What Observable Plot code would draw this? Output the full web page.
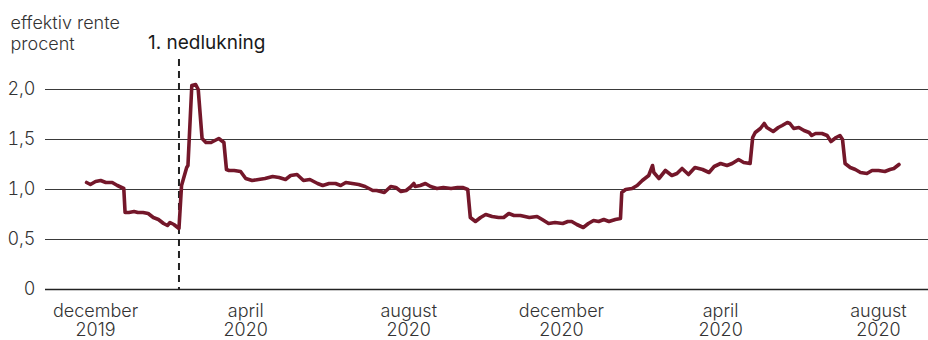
<!DOCTYPE html>
<html>
<head>
<meta charset="utf-8">
<script src="https://cdn.jsdelivr.net/npm/d3@7"></script>
<script src="https://cdn.jsdelivr.net/npm/@observablehq/plot@0.6"></script>
<style>
  html, body { margin: 0; padding: 0; background: #fff; }
  #chart svg { display: block; }
</style>
</head>
<body>
<div id="chart"></div>
<script>
// ---- data ----
const dates = [
  "2019-12-08","2019-12-11","2019-12-15","2019-12-19","2019-12-23","2019-12-28","2020-01-01","2020-01-06",
  "2020-01-07","2020-01-10","2020-01-14","2020-01-17","2020-01-21","2020-01-25","2020-01-29","2020-02-02",
  "2020-02-06","2020-02-09","2020-02-11","2020-02-14","2020-02-18","2020-02-20","2020-02-24","2020-02-25",
  "2020-02-28","2020-03-02","2020-03-04","2020-03-07","2020-03-10","2020-03-14","2020-03-17","2020-03-20",
  "2020-03-24","2020-03-26","2020-03-28","2020-04-01","2020-04-06","2020-04-10","2020-04-15","2020-04-20",
  "2020-04-25","2020-05-01","2020-05-06","2020-05-11","2020-05-15","2020-05-20","2020-05-25","2020-05-30",
  "2020-06-05","2020-06-09","2020-06-14","2020-06-19","2020-06-23","2020-06-27","2020-07-02","2020-07-07",
  "2020-07-12","2020-07-18","2020-07-21","2020-07-27","2020-08-01","2020-08-05","2020-08-09","2020-08-13",
  "2020-08-16","2020-08-19","2020-08-20","2020-08-24","2020-08-28","2020-09-01","2020-09-06","2020-09-11",
  "2020-09-17","2020-09-22","2020-09-26","2020-09-30","2020-10-02","2020-10-06","2020-10-10","2020-10-14",
  "2020-10-19","2020-10-24","2020-10-28","2020-11-01","2020-11-05","2020-11-10","2020-11-17","2020-11-23",
  "2020-11-27","2020-12-02","2020-12-07","2020-12-13","2020-12-17","2020-12-20","2020-12-24","2020-12-29",
  "2021-01-02","2021-01-06","2021-01-10","2021-01-14","2021-01-18","2021-01-23","2021-01-27","2021-01-28",
  "2021-01-31","2021-02-05","2021-02-09","2021-02-13","2021-02-16","2021-02-18","2021-02-21","2021-02-22",
  "2021-02-26","2021-03-03","2021-03-08","2021-03-12","2021-03-16","2021-03-21","2021-03-26","2021-04-01",
  "2021-04-06","2021-04-10","2021-04-15","2021-04-20","2021-04-24","2021-04-29","2021-05-03","2021-05-08",
  "2021-05-10","2021-05-12","2021-05-16","2021-05-19","2021-05-21","2021-05-26","2021-05-30","2021-06-02",
  "2021-06-06","2021-06-08","2021-06-11","2021-06-15","2021-06-19","2021-06-23","2021-06-25","2021-06-28",
  "2021-07-03","2021-07-07","2021-07-10","2021-07-14","2021-07-17","2021-07-19","2021-07-21","2021-07-25",
  "2021-07-29","2021-08-02","2021-08-07","2021-08-11","2021-08-16","2021-08-21","2021-08-25","2021-08-28",
  "2021-09-01"
];
const rates = [
  1.07,1.05,1.08,1.09,1.07,1.07,1.04,1.01,
  0.77,0.77,0.78,0.77,0.77,0.76,0.72,0.70,
  0.66,0.64,0.67,0.65,0.61,1.04,1.22,1.24,
  2.04,2.05,2.00,1.51,1.47,1.47,1.49,1.51,
  1.47,1.20,1.19,1.19,1.18,1.11,1.09,1.10,
  1.11,1.13,1.12,1.10,1.14,1.15,1.09,1.10,
  1.06,1.04,1.06,1.06,1.04,1.07,1.06,1.05,
  1.03,0.99,0.99,0.97,1.03,1.02,0.98,0.99,
  1.02,1.06,1.03,1.04,1.06,1.03,1.01,1.02,
  1.01,1.02,1.02,1.00,0.72,0.68,0.72,0.75,
  0.73,0.72,0.72,0.76,0.74,0.74,0.72,0.73,
  0.70,0.66,0.67,0.66,0.68,0.68,0.65,0.62,
  0.66,0.69,0.68,0.70,0.68,0.70,0.71,0.97,
  1.00,1.01,1.04,1.09,1.12,1.14,1.24,1.17,
  1.11,1.19,1.14,1.16,1.21,1.15,1.22,1.20,
  1.17,1.23,1.26,1.24,1.26,1.30,1.27,1.26,
  1.52,1.57,1.61,1.66,1.62,1.58,1.62,1.64,
  1.67,1.66,1.61,1.62,1.59,1.57,1.54,1.56,
  1.56,1.54,1.48,1.52,1.54,1.50,1.26,1.22,
  1.20,1.17,1.16,1.19,1.19,1.18,1.20,1.21,
  1.25
];
const xDomain = ["2019-11-06", "2021-09-24"];
const tickDates = ["2019-12-15","2020-04-10","2020-08-15","2020-12-12","2021-04-15","2021-08-16"];
const tickLabels = ["december\n2019","april\n2020","august\n2020","december\n2020","april\n2020","august\n2020"];
const yTicks = [0, 0.5, 1, 1.5, 2];
const yTop = 2.3;
const eventDate = "2020-02-18";
const eventLabel = "1. nedlukning";
const yTitle = "effektiv rente\nprocent";

// ---- build ----
const parse = d3.utcParse("%Y-%m-%d");
const data = dates.map((d, i) => ({date: parse(d), value: rates[i]}));
const ticks = tickDates.map((d, i) => ({date: parse(d), label: tickLabels[i]}));

const FONT = "Inter, 'Open Sans', sans-serif";
const chart = Plot.plot({
  width: 928,
  height: 340,
  marginLeft: 45,
  marginRight: 0,
  marginTop: 59,
  marginBottom: 51,
  style: {fontFamily: FONT, fontSize: "18px", color: "#333", background: "#fff"},
  x: {type: "utc", domain: xDomain.map(parse), axis: null},
  y: {domain: [0, yTop], axis: null},
  marks: [
    Plot.ruleY(yTicks.filter(d => d !== 0), {stroke: "#3a3a3a", strokeWidth: 1}),
    Plot.ruleY([0], {stroke: "#222", strokeWidth: 1.6}),
    Plot.axisY({
      ticks: yTicks, tickSize: 0, tickPadding: 10, label: null,
      tickFormat: d => d === 0 ? "0" : d.toFixed(1).replace(".", ","),
      fontSize: 18, fontWeight: 300, fill: "#333"
    }),
    Plot.text(ticks, {
      x: "date", text: "label", frameAnchor: "bottom", lineAnchor: "top",
      dy: 14, lineHeight: 1.05, fontSize: 18, fontWeight: 300, fill: "#333"
    }),
    Plot.ruleX([parse(eventDate)], {stroke: "#222", strokeWidth: 2, strokeDasharray: "7,5"}),
    Plot.text([eventLabel], {
      x: () => parse(eventDate), y: () => yTop, textAnchor: "start", lineAnchor: "middle",
      dx: -31, dy: -17, fontSize: 19, fontWeight: 400, fill: "#1a1a1a"
    }),
    Plot.text([yTitle], {
      frameAnchor: "top-left", textAnchor: "start", lineAnchor: "top",
      dx: -35, dy: -46, lineHeight: 1.2, fontSize: 18, fontWeight: 300, fill: "#333"
    }),
    Plot.lineY(data, {x: "date", y: "value", stroke: "#74172a", strokeWidth: 3.6, strokeLinejoin: "round", strokeLinecap: "round"})
  ]
});
document.getElementById("chart").appendChild(chart);
</script>
</body>
</html>
